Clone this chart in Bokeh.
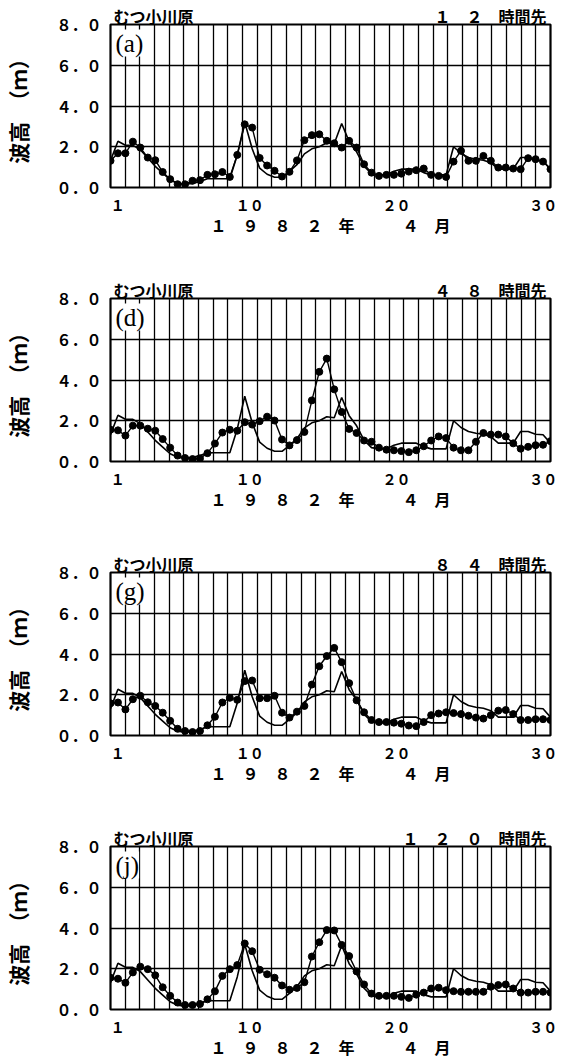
import numpy as np
from bokeh.plotting import figure
from bokeh.layouts import column
from bokeh.models import FixedTicker, Label, LinearAxis, Range1d
from bokeh.embed import file_html
from bokeh.resources import INLINE

# Significant wave height (m), 12-hourly, April 1982 — observed and forecasts
observed = [1.31, 2.27, 2.07, 2.07, 1.86, 1.45, 1.04, 0.71, 0.38, 0.21,
            0.16, 0.20, 0.30, 0.43, 0.43, 0.43, 0.43, 1.60, 3.20, 1.90,
            0.95, 0.65, 0.50, 0.50, 0.79, 1.12, 1.65, 1.90, 2.00, 2.20,
            2.15, 3.14, 2.25, 1.75, 1.05, 0.68, 0.62, 0.62, 0.80, 0.90,
            0.90, 0.90, 0.73, 0.62, 0.62, 0.62, 2.00, 1.67, 1.47, 1.39,
            1.34, 1.22, 0.90, 0.90, 0.90, 1.47, 1.47, 1.34, 1.31, 0.90]

fc_12h = [1.31, 1.68, 1.68, 2.25, 1.96, 1.47, 1.34, 0.76, 0.41, 0.16,
          0.16, 0.33, 0.36, 0.62, 0.65, 0.76, 0.52, 1.60, 3.10, 2.94,
          1.45, 1.08, 0.82, 0.54, 0.77, 1.33, 2.32, 2.57, 2.61, 2.29,
          2.17, 1.96, 2.29, 1.96, 1.14, 0.73, 0.57, 0.62, 0.62, 0.68,
          0.78, 0.85, 0.93, 0.62, 0.57, 0.52, 1.27, 1.80, 1.31, 1.31,
          1.55, 1.31, 0.98, 0.98, 0.93, 0.90, 1.44, 1.39, 1.27, 0.90]

fc_48h = [1.56, 1.53, 1.27, 1.76, 1.76, 1.61, 1.51, 1.10, 0.68, 0.29,
          0.17, 0.12, 0.15, 0.41, 0.88, 1.42, 1.56, 1.51, 1.93, 1.81,
          1.98, 2.20, 2.01, 1.08, 0.79, 1.05, 1.45, 3.00, 4.40, 5.05,
          3.54, 2.43, 1.60, 1.40, 1.03, 0.97, 0.68, 0.58, 0.55, 0.51,
          0.46, 0.55, 0.75, 1.03, 1.23, 1.15, 0.68, 0.55, 0.55, 0.97,
          1.40, 1.32, 1.32, 1.23, 0.89, 0.63, 0.72, 0.80, 0.82, 1.00]

fc_84h = [1.58, 1.62, 1.28, 1.78, 1.95, 1.63, 1.45, 1.12, 0.72, 0.33,
          0.22, 0.17, 0.22, 0.50, 0.92, 1.62, 1.85, 1.75, 2.67, 2.70,
          1.83, 1.83, 1.95, 1.12, 0.88, 1.17, 1.45, 2.50, 3.40, 3.90,
          4.30, 3.60, 2.57, 1.73, 1.14, 0.76, 0.66, 0.66, 0.63, 0.58,
          0.49, 0.46, 0.66, 1.00, 1.08, 1.14, 1.10, 1.05, 0.97, 0.88,
          0.83, 1.00, 1.22, 1.25, 1.05, 0.76, 0.76, 0.80, 0.80, 0.76]

fc_120h = [1.56, 1.51, 1.31, 1.82, 2.10, 1.98, 1.68, 1.09, 0.67, 0.34,
           0.22, 0.22, 0.27, 0.50, 0.89, 1.65, 1.98, 2.18, 3.24, 2.86,
           1.95, 1.73, 1.56, 1.18, 0.97, 1.06, 1.34, 2.60, 3.30, 3.90,
           3.88, 3.17, 2.62, 1.87, 1.23, 0.78, 0.67, 0.67, 0.67, 0.62,
           0.57, 0.73, 0.83, 1.03, 1.07, 0.95, 0.90, 0.87, 0.87, 0.87,
           0.87, 1.12, 1.20, 1.23, 1.03, 0.83, 0.83, 0.87, 0.87, 0.83]

forecasts = [fc_12h, fc_48h, fc_84h, fc_120h]
lead_titles = ["１　２　時間先", "４　８　時間先", "８　４　時間先", "１　２　０　時間先"]
panel_tags = ["(a)", "(d)", "(g)", "(j)"]
station = "むつ小川原"

day_ticks = [1, 10, 20, 30]
day_labels = ["１", "１０", "２０", "３０"]
height_ticks = [0, 2, 4, 6, 8]
height_labels = ["０．０", "２．０", "４．０", "６．０", "８．０"]
x_title = "１　９　８　２　年　　　４　月"
y_title = "波高　（ｍ）"

# sample times: 60 half-day steps spanning the month frame
X0, X1 = 0.5, 30.5
times = np.linspace(X0, X1, len(observed))
day_grid = [d + 0.5 for d in range(1, 30)]

JP = "Noto Sans CJK JP"
FRAME_W, FRAME_H = 440, 163
HEAD_PX = 16          # header font size (full-width glyphs are 1 em wide)


def px_to_day(px):
    return round(X0 + px * (X1 - X0) / FRAME_W, 3)


def style_axis(ax):
    ax.axis_line_color = None
    ax.major_tick_line_color = None
    ax.minor_tick_line_color = None
    ax.major_tick_in = 0
    ax.major_tick_out = 0
    ax.major_label_text_font = JP
    ax.major_label_text_font_style = "bold"
    ax.major_label_text_color = "black"
    ax.axis_label_text_font = JP
    ax.axis_label_text_font_style = "bold"
    ax.axis_label_text_color = "black"


def make_panel(forecast, lead, tag, last=False):
    p = figure(frame_width=FRAME_W, frame_height=FRAME_H,
               x_range=Range1d(X0, X1), y_range=Range1d(0, 8),
               min_border_left=105, min_border_right=21,
               min_border_top=24, min_border_bottom=50 if last else 87,
               output_backend="svg", toolbar_location=None)
    p.background_fill_color = "white"
    p.border_fill_color = "white"
    p.outline_line_color = "black"
    p.outline_line_width = 2.2

    xax = p.below[0]
    yax = p.left[0]

    # header row: station on the left, lead time on the right
    left_c = px_to_day(3 + HEAD_PX * len(station) / 2)
    right_c = px_to_day(FRAME_W - 4 - HEAD_PX * len(lead) / 2)
    head = LinearAxis(ticker=FixedTicker(ticks=[left_c, right_c]),
                      major_label_overrides={left_c: station, right_c: lead})
    p.add_layout(head, "above")

    for ax in (xax, yax, head):
        style_axis(ax)

    head.major_label_text_font_size = f"{HEAD_PX}px"
    head.major_label_text_line_height = 1.0
    head.major_label_standoff = -3

    xax.ticker = FixedTicker(ticks=day_ticks)
    xax.major_label_overrides = dict(zip(day_ticks, day_labels))
    xax.major_label_text_font_size = "14px"
    xax.major_label_standoff = 7
    xax.axis_label = x_title
    xax.axis_label_text_font_size = "16px"
    xax.axis_label_text_line_height = 1.0
    xax.axis_label_standoff = -5

    yax.ticker = FixedTicker(ticks=height_ticks)
    yax.major_label_overrides = dict(zip(height_ticks, height_labels))
    yax.major_label_text_font_size = "15px"
    yax.major_label_standoff = 9
    yax.axis_label = y_title
    yax.axis_label_text_font_size = "21px"
    yax.axis_label_standoff = 20

    p.xgrid.ticker = FixedTicker(ticks=day_grid)
    p.ygrid.ticker = FixedTicker(ticks=[2, 4, 6])
    for g in (p.xgrid[0], p.ygrid[0]):
        g.grid_line_color = "black"
        g.grid_line_width = 1.3
        g.grid_line_alpha = 1.0

    p.line(times, observed, line_color="black", line_width=1.6)
    p.line(times, forecast, line_color="black", line_width=1.4)
    p.scatter(times, forecast, size=7, marker="circle",
              fill_color="black", line_color="black")

    p.add_layout(Label(x=X0, y=8, text=tag, x_offset=5, y_offset=-5,
                       text_align="left", text_baseline="top",
                       text_font="Liberation Serif", text_font_size="25px",
                       text_color="black", background_fill_color="white"))
    return p


panels = [make_panel(f, l, t, last=(i == 3))
          for i, (f, l, t) in enumerate(zip(forecasts, lead_titles, panel_tags))]
layout = column(*panels, spacing=0)

open("out.html", "w").write(file_html(layout, INLINE))
